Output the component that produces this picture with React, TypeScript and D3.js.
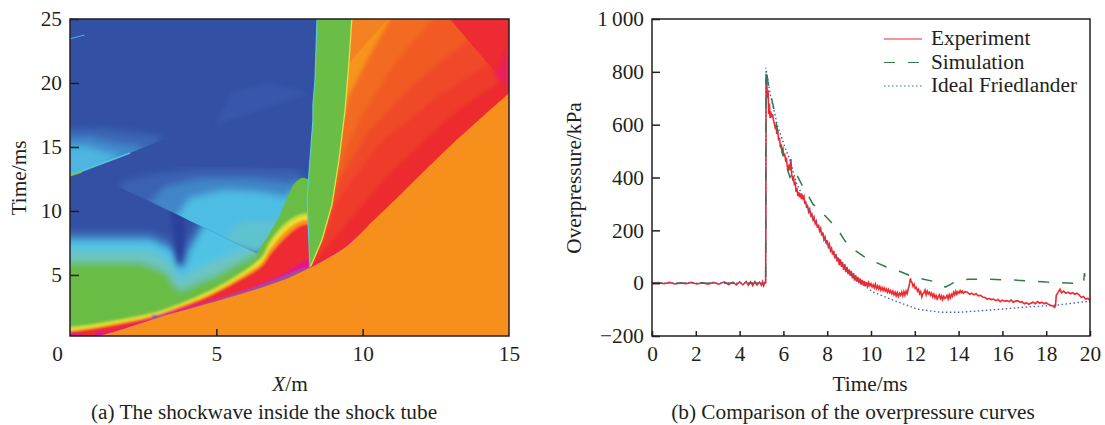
import * as d3 from "d3";
import { useEffect, useRef } from "react";

type Pt = [number, number];

// ---- left panel: x-t field, regions as [x (m), t (ms)] ----
const xTicksA = [0, 5, 10, 15];
const tTicksA = [5, 10, 15, 20, 25];

const shockFront: Pt[] = [[0.9, 0.23], [1.37, 0.47], [3.3, 1.88], [5.0, 2.95], [7.17, 4.5], [8.17, 5.55], [9.4, 7.19], [10.2, 8.9], [11.1, 10.86], [13, 15.1], [15, 19.2]];
const fanBands: { color: string; edge: Pt[] }[] = [
  { color: "#ef3a2b", edge: [[8.4, 6.2], [9.4, 8.9], [10.9, 12.9], [13.1, 17.6], [15, 20.6]] },
  { color: "#f0482a", edge: [[8.54, 7.34], [9.16, 10.86], [10.59, 15.31], [12.54, 18.91], [14.35, 21.56], [14.7, 22.6]] },
  { color: "#f15a24", edge: [[8.61, 8.13], [9.26, 12.66], [10.15, 16.09], [11.62, 19.69], [13.67, 23.5], [14.35, 25]] },
  { color: "#f36b21", edge: [[8.88, 10.86], [9.4, 14.77], [10.01, 17.66], [11.17, 21.8], [12.4, 25]] },
  { color: "#f7941e", edge: [[9.5, 18.9], [10.15, 21.8], [10.93, 25]] },
];
const wedgeOrange: Pt[] = [[9.4, 25], [9.53, 21.56], [10.86, 25], [10.86, 26], [9.4, 26]];
const cornerRed: Pt[] = [[12.98, 25], [15, 19.6], [16, 19.6], [16, 26], [12.98, 26]];
const cornerPink: Pt[] = [[15, 22.6], [15, 19.6], [14.45, 20.6]];
const greenLeft: Pt[] = [[8.44, 26], [8.44, 25], [8.37, 20.23], [8.3, 18.28], [8.3, 17.1], [8.16, 12.8], [8.1, 10.86], [8.13, 9.3], [8.2, 5.55]];
const greenRight: Pt[] = [[8.2, 5.55], [8.61, 7.73], [8.95, 10.47], [9.19, 13.98], [9.4, 17.89], [9.53, 21.56], [9.63, 25], [9.63, 26]];

const diagLine: Pt[] = [[0, 13.6], [2.63, 10.86], [6.42, 6.64]];
const wedgeLine: Pt[] = [[0, 12.81], [0.51, 13.2], [2.05, 14.53], [3.76, 16.1]];
const upperClose: Pt[] = [[8.1, 9], [6.42, 6.64], [2.63, 9]];
const upperGlow: { color: string; edge: Pt[] }[] = [
  { color: "#3a62b2", edge: [[1.4, 11], [1.9, 12.4], [2.9, 12.9], [4.44, 13.3], [6.49, 13.3], [7.69, 13.3], [8.03, 12.66]] },
  { color: "#3f86c9", edge: [[2.63, 10.4], [3.25, 11.9], [4.44, 12.5], [6.15, 12.5], [7.52, 12.2], [7.86, 12.42]] },
  { color: "#4ebde3", edge: [[3.59, 9.4], [4.1, 11.02], [5.3, 11.64], [6.49, 11.48], [7.35, 11.1], [7.79, 11.8]] },
  { color: "#5fc3cf", edge: [[5.1, 7.6], [5.9, 9.2], [6.9, 9.2]] },
];
const wedgeGlow: { color: string; poly: Pt[] }[] = [
  { color: "#3a66b5", poly: [[-0.5, 16.33], [1.02, 16.48], [2.05, 16.17], [3.25, 15.8], [2.05, 13.5], [0.51, 12.2], [-0.5, 12.2]] },
  { color: "#3f88cc", poly: [[-0.5, 15.7], [0.68, 15.8], [1.54, 15.3], [2.5, 15], [2.05, 13.5], [0.51, 12.2], [-0.5, 12.2]] },
  { color: "#4eb5e0", poly: [[-0.5, 15], [0.51, 15.1], [1.2, 14.6], [1.7, 14.4], [0.51, 12.2], [-0.5, 12.2]] },
];
const wedgeStreak: Pt[] = [[0, 12.81], [0.51, 13.2], [2.05, 14.53]];
const wedgeTip: Pt[] = [[0, 12.75], [0.4, 13.05]];
const topStreak: Pt[] = [[0, 23.45], [0.5, 23.75]];
const faintWedge: Pt[] = [[8.13, 19.2], [6.83, 20], [5.5, 19.2], [4.95, 16.7]];

const lowerLevels: { color: string; edge: Pt[] }[] = [
  { color: "#3e6fbc", edge: [[0, 8.36], [2.73, 8.36], [3.42, 7.73], [3.69, 6.02], [3.83, 6.02], [3.96, 7.34], [4.27, 8.6], [4.6, 10], [7.6, 10]] },
  { color: "#4fc3e6", edge: [[0, 7.73], [2.73, 7.73], [3.48, 6.95], [3.69, 5.55], [3.9, 5.55], [4.1, 6.95], [4.44, 8.3], [4.9, 10], [7.6, 10]] },
  { color: "#6cc5c4", edge: [[0, 6.95], [2.73, 6.95], [3.42, 6.02], [3.76, 4.6], [4.1, 5.2], [4.78, 6], [5.81, 6.95], [6.6, 7.4], [7.6, 7.6]] },
  { color: "#69bd45", edge: [[0, 6.02], [2.39, 6.02], [3.25, 5.23], [3.76, 3.7], [4.27, 4.3], [4.95, 4.9], [5.81, 6], [6.6, 6.9], [7.6, 7.2]] },
];
const darkNotch: Pt[] = [[3.4, 10.4], [3.95, 9.8], [3.9, 7.5], [3.78, 5.9], [3.72, 5.9], [3.58, 7.5]];
const greenHump: Pt[] = [[6.39, 6.72], [6.83, 8.3], [7.17, 9.69], [7.45, 11.2], [7.69, 12.2], [7.95, 12.6], [8.2, 12.4]];

const frontBands: { color: string; edge: Pt[] }[] = [
  { color: "#c4d93e", edge: [[0, 0.95], [2.73, 2.02], [3.65, 2.7], [4.78, 3.8], [5.81, 5.15], [6.56, 6.5], [6.83, 7.65], [7.35, 9.05], [7.86, 9.75], [8.2, 9.85]] },
  { color: "#efe02e", edge: [[0, 0.78], [2.73, 1.88], [3.65, 2.56], [4.78, 3.64], [5.81, 4.98], [6.56, 6.3], [6.83, 7.35], [7.35, 8.75], [7.86, 9.5], [8.2, 9.6]] },
  { color: "#f7941e", edge: [[0, 0.65], [2.73, 1.76], [3.65, 2.46], [4.78, 3.5], [5.81, 4.8], [6.56, 6], [6.83, 7], [7.35, 8.4], [7.86, 9.2], [8.2, 9.35]] },
  { color: "#ee2a30", edge: [[0, 0.55], [2.73, 1.64], [3.25, 2.03], [3.65, 2.34], [4.78, 3.36], [5.81, 4.6], [6.56, 5.7], [6.83, 6.56], [7.35, 7.9], [7.86, 8.83], [8.2, 9]] },
  { color: "#e0188c", edge: [[1.37, 0.6], [3.31, 2.03], [5.02, 3.13], [6.83, 4.6], [8.2, 6.33]] },
  { color: "#9b4fa0", edge: [[3.31, 1.9], [5.02, 3.05], [6.83, 4.45], [7.86, 5.4], [8.2, 5.6]] },
];
const cornerMagenta: Pt[] = [[-0.2, 0.5], [0.4, 0.4], [0.5, 0], [-0.2, 0]];

// ---- right panel: overpressure curves ----
const timeTicks = [0, 2, 4, 6, 8, 10, 12, 14, 16, 18, 20];
const pressureTicks = [-200, 0, 200, 400, 600, 800, 1000];

const expTime = [
  0, 0.3, 0.55, 0.8, 1.05, 1.3, 1.55, 1.8, 2.05, 2.3, 2.55, 2.8, 3.05, 3.3, 3.5, 3.7, 3.85, 4, 4.15, 4.3, 4.4, 4.5, 4.6, 4.7, 4.8, 4.9, 5, 5.05, 5.1, 5.15, 5.19, 5.2, 5.21,
  5.24, 5.27, 5.3, 5.33, 5.36, 5.39, 5.42, 5.46, 5.5, 5.54, 5.58, 5.62, 5.66, 5.7, 5.74, 5.78, 5.82, 5.86, 5.9, 5.94, 5.98,
  6.02, 6.06, 6.1, 6.14, 6.18, 6.22, 6.26, 6.3, 6.34, 6.38, 6.42, 6.46, 6.5, 6.54, 6.58, 6.62, 6.66, 6.7, 6.74, 6.78, 6.82, 6.86, 6.9, 6.94, 6.98,
  7.02, 7.06, 7.1, 7.15, 7.2, 7.25, 7.3, 7.35, 7.4, 7.45, 7.5, 7.55, 7.6, 7.65, 7.7, 7.75, 7.8, 7.85, 7.9, 7.95, 8, 8.05, 8.1, 8.15, 8.2, 8.25, 8.3, 8.35, 8.4, 8.45, 8.5, 8.55, 8.6, 8.65, 8.7, 8.75, 8.8, 8.85, 8.9, 8.95, 9, 9.05, 9.1, 9.15, 9.2, 9.25, 9.3, 9.35, 9.4, 9.45, 9.5, 9.55, 9.6, 9.65, 9.7, 9.75, 9.8, 9.85, 9.9, 9.95, 10, 10.05, 10.1, 10.15, 10.2, 10.25, 10.3, 10.35, 10.4, 10.45, 10.5, 10.55, 10.6, 10.65, 10.7, 10.75, 10.8, 10.85, 10.9, 10.95, 11, 11.05, 11.1, 11.15, 11.2, 11.25, 11.3, 11.35, 11.4, 11.45, 11.5, 11.55, 11.6, 11.65, 11.7, 11.75, 11.8, 11.83, 11.87, 11.92, 11.97, 12.02, 12.07, 12.12, 12.17, 12.22, 12.27, 12.32, 12.37, 12.42, 12.47, 12.52, 12.57, 12.62, 12.67, 12.72, 12.77, 12.82, 12.87, 12.92, 12.97, 13.02, 13.07, 13.12, 13.17, 13.22, 13.27, 13.32, 13.37, 13.42, 13.47, 13.52, 13.57, 13.62, 13.67, 13.72, 13.77, 13.82, 13.87, 13.92, 13.97, 14.02, 14.07, 14.12, 14.17, 14.22, 14.3, 14.4, 14.5, 14.6, 14.7, 14.8, 14.9, 15, 15.1, 15.2, 15.3, 15.4, 15.5, 15.6, 15.7, 15.8, 15.9, 16, 16.1, 16.2, 16.3, 16.4, 16.5, 16.6, 16.7, 16.8, 16.9, 17, 17.1, 17.2, 17.3, 17.4, 17.5, 17.6, 17.7, 17.8, 17.9, 18, 18.1, 18.2, 18.3, 18.38, 18.42, 18.46, 18.55, 18.63, 18.7, 18.8, 18.9, 19, 19.1, 19.2, 19.3, 19.4, 19.5, 19.6, 19.7, 19.8, 19.9, 20,
];
const expPressure = [
  0, 2, -2, 3, -3, 1, -2, 3, -3, 2, -4, 3, -4, 5, -5, 4, -7, 5, -6, 6, -8, 5, -9, 6, -7, 4, -8, 5, -9, 3, 2, 300, 776,
  760, 700, 730, 640, 680, 625, 650, 628, 640, 620, 605, 590, 600, 565, 575, 540, 550, 515, 525, 500, 508,
  480, 490, 465, 470, 440, 425, 450, 428, 470, 410, 395, 405, 370, 385, 345, 360, 330, 345, 325, 340, 318, 335, 320, 328, 300,
  310, 285, 295, 270, 280, 255, 262, 240, 250, 225, 235, 210, 222, 198, 208, 180, 192, 165, 175, 150, 162, 138, 148, 122, 132, 108, 122, 94, 110, 82, 97, 68, 90, 62, 80, 50, 72, 42, 62, 34, 52, 28, 46, 18, 38, 10, 30, 6, 24, 0, 18, -5, 12, -8, 8, -12, 4, -14, 2, -10, -2, -14, -6, -18, -4, -20, -10, -22, -12, -26, -16, -28, -18, -30, -22, -34, -24, -36, -28, -40, -30, -44, -34, -48, -36, -50, -38, -46, -34, -48, -32, -46, -30, -40, -22, -6, 18, 8, 2, -12, -4, -20, -16, -30, -24, -40, -32, -52, -40, -36, -26, -44, -30, -40, -34, -46, -38, -52, -42, -56, -46, -60, -52, -44, -58, -48, -62, -50, -58, -54, -46, -60, -44, -56, -42, -50, -34, -44, -30, -42, -32, -38, -28, -36, -30, -38, -32, -34, -42, -38, -44, -40, -48, -46, -52, -54, -60, -58, -62, -60, -66, -62, -70, -64, -68, -66, -70, -64, -72, -68, -66, -72, -70, -78, -74, -80, -76, -72, -78, -70, -76, -72, -78, -74, -80, -84, -86, -92, -88, -46, -34, -23, -36, -30, -38, -34, -40, -36, -42, -38, -44, -54, -50, -60, -58, -64, -68,
];
const simTime = [0, 5.19, 5.21, 5.3, 5.55, 5.75, 6, 6.3, 6.5, 6.85, 7.07, 7.35, 7.67, 8.13, 8.45, 8.8, 9.13, 9.65, 10.1, 10.7, 11.3, 11.85, 12.4, 13, 13.4, 13.9, 14.45, 15.2, 16.5, 18, 19.2, 19.7, 19.75, 19.8, 20];
const simPressure = [0, 0, 815, 757, 666, 568, 477, 401, 428, 371, 340, 299, 276, 235, 208, 161, 132, 102, 83, 61, 45, 26, 15, 4, -15, 8, 15, 15, 12, 4, 0, 0, 38, 0, 8];
const idealTime = [0, 5.19, 5.2, 5.39, 5.75, 6.07, 6.3, 6.6, 6.9, 7.2, 7.67, 8.13, 8.58, 9.36, 10.1, 11, 12.1, 13.15, 14.06, 15.4, 17, 18.5, 20];
const idealPressure = [0, 0, 815, 719, 590, 515, 466, 378, 326, 276, 200, 125, 87, 11, -34, -64, -98, -110, -110, -102, -91, -83, -68];

const legendNames = ["Experiment", "Simulation", "Ideal Friedlander"];
const legendColors = ["#ee2a30", "#2f7d45", "#3f66b5"];
const legendDash = ["", "11 13", "1.5 2.5"];

const serif = "'Liberation Serif', 'Times New Roman', serif";
const ink = "#231f20";
const fontSize = 21.3;

export default function App() {
  const svgRef = useRef<SVGSVGElement>(null);

  useEffect(() => {
    const svg = d3.select(svgRef.current);
    svg.selectAll("*").remove();
    svg.style("font-family", serif);

    // left panel scales
    const x = d3.scaleLinear().domain([0, 15]).range([70, 509]);
    const t = d3.scaleLinear().domain([0.23, 25]).range([336, 19]);
    const line = d3.line<Pt>().x((d) => x(d[0])).y((d) => t(d[1]));
    const smooth = d3.line<Pt>().x((d) => x(d[0])).y((d) => t(d[1])).curve(d3.curveCatmullRom);
    const closed = (p: Pt[]) => line(p) + "Z";
    const tail = (p: Pt[]) => p.map((d) => `L${x(d[0])},${t(d[1])}`).join("") + "Z";

    const defs = svg.append("defs");
    defs.append("clipPath").attr("id", "fieldClip").append("rect").attr("x", 70).attr("y", 19).attr("width", 439).attr("height", 317);
    defs.append("clipPath").attr("id", "belowDiag").append("path").attr("d", closed([...diagLine, [9, 6.64], [9, -1], [0, -1]]));
    defs.append("clipPath").attr("id", "aboveDiag").append("path").attr("d", closed([...diagLine, [9, 6.64], [9, 13.3], [0, 13.6]]));
    defs.append("clipPath").attr("id", "aboveWedge").append("path").attr("d", closed([...wedgeLine, [3.76, 18], [0, 18]]));
    const blur = (id: string, s: number) =>
      defs.append("filter").attr("id", id).attr("x", "-10%").attr("y", "-10%").attr("width", "120%").attr("height", "120%")
        .append("feGaussianBlur").attr("stdDeviation", s);
    blur("soft", 0.7);
    blur("band", 1.1);
    blur("mid", 2.2);
    blur("wide", 3.6);

    const field = svg.append("g").attr("clip-path", "url(#fieldClip)");
    field.append("rect").attr("x", 70).attr("y", 19).attr("width", 439).attr("height", 317).attr("fill", "#3350a5");

    const fan = field.append("g").attr("filter", "url(#mid)");
    fan.append("path").attr("d", closed([[8, 27], [16, 27], [16, 0], [8, 0]])).attr("fill", "#ed2a2e");
    fanBands.forEach((b) => {
      const last = b.edge[b.edge.length - 1];
      fan.append("path").attr("d", closed([...b.edge, [last[0] + 0.6, 27], [8, 27], [8, 5]])).attr("fill", b.color);
    });
    const fanTop = field.append("g").attr("filter", "url(#soft)");
    fanTop.append("path").attr("d", closed(cornerRed)).attr("fill", "#ee2a30");
    fanTop.append("path").attr("d", closed(wedgeOrange)).attr("fill", "#f58220");
    field.append("path").attr("d", closed(cornerPink)).attr("fill", "#e91e63").attr("opacity", 0.75).attr("filter", "url(#mid)");
    field.append("path").attr("d", closed([...greenLeft, [8.2, 0], [-0.5, 0], [-0.5, 26]])).attr("fill", "#3350a5");

    // upper lobes, cut sharp along the two reflected waves
    field.append("path").attr("d", closed(faintWedge)).attr("fill", "#3957ac").attr("filter", "url(#mid)");
    const wedgeClip = field.append("g").attr("clip-path", "url(#aboveWedge)").append("g").attr("filter", "url(#wide)");
    wedgeGlow.forEach((w) => wedgeClip.append("path").attr("d", closed(w.poly)).attr("fill", w.color));
    const upperClip = field.append("g").attr("clip-path", "url(#aboveDiag)").append("g").attr("filter", "url(#wide)");
    upperGlow.forEach((u) => upperClip.append("path").attr("d", closed([...u.edge, ...upperClose])).attr("fill", u.color));
    const lowerClip = field.append("g").attr("clip-path", "url(#belowDiag)").append("g").attr("filter", "url(#wide)");
    lowerLevels.forEach((l) => {
      const last = l.edge[l.edge.length - 1];
      lowerClip.append("path").attr("d", closed([[-1, l.edge[0][1]], ...l.edge, [last[0], -1], [-1, -1]])).attr("fill", l.color);
    });
    field.append("path").attr("d", closed(darkNotch)).attr("fill", "#2b3f9b").attr("filter", "url(#mid)").attr("clip-path", "url(#belowDiag)");

    const hump = field.append("g").attr("filter", "url(#soft)");
    hump.append("path").attr("d", smooth(greenHump) + tail([[8.2, 0], [6.39, 0]])).attr("fill", "#69bd45");

    const band = field.append("g").attr("filter", "url(#band)");
    frontBands.forEach((b) => {
      const e = b.edge;
      band.append("path").attr("d", smooth([[e[0][0] - 0.5, e[0][1]], ...e]) + tail([[e[e.length - 1][0], -1], [e[0][0] - 0.5, -1]])).attr("fill", b.color);
    });
    band.append("path").attr("d", closed(cornerMagenta)).attr("fill", "#e0188c");

    const front = field.append("g").attr("filter", "url(#soft)");
    front.append("path").attr("d", closed([...greenLeft, ...greenRight])).attr("fill", "#6abd45");
    front.append("path").attr("d", line(greenLeft)!).attr("fill", "none").attr("stroke", "#5ccbe0").attr("stroke-width", 1.1);
    front.append("path").attr("d", line(greenRight)!).attr("fill", "none").attr("stroke", "#dde34a").attr("stroke-width", 1.3);
    front.append("path").attr("d", line(wedgeStreak)!).attr("fill", "none").attr("stroke", "#57c6e0").attr("stroke-width", 1.4);
    front.append("path").attr("d", line(wedgeTip)!).attr("fill", "none").attr("stroke", "#7fc241").attr("stroke-width", 1.6);
    front.append("path").attr("d", line(topStreak)!).attr("fill", "none").attr("stroke", "#4eb5e0").attr("stroke-width", 1);
    front.append("path").attr("d", smooth(shockFront) + tail([[16, 19.2], [16, -1], [0.9, -1]])).attr("fill", "#f78f1e");
    front.append("path").attr("d", smooth(shockFront.slice(5, 8))!).attr("fill", "none").attr("stroke", "#e0188c").attr("stroke-width", 0.9);

    const styleAxis = (g: any) => {
      g.selectAll("text").attr("font-family", serif).attr("font-size", fontSize).attr("fill", ink);
      g.selectAll("line").attr("stroke", ink).attr("stroke-width", 1.5);
      g.selectAll(".domain").remove();
    };
    const frame = (l: number, r: number, top: number, bottom: number) =>
      svg.append("rect").attr("x", l).attr("y", top).attr("width", r - l).attr("height", bottom - top)
        .attr("fill", "none").attr("stroke", ink).attr("stroke-width", 1.5);

    frame(70, 509, 19, 336);
    const axA = svg.append("g").attr("transform", "translate(0,336)")
      .call(d3.axisBottom(x).tickValues(xTicksA).tickSize(-7).tickPadding(10).tickFormat(d3.format("d")) as any);
    styleAxis(axA);
    axA.selectAll<SVGTextElement, number>("text").attr("dx", (d) => (d === 0 ? -13 : 0));
    axA.selectAll<SVGLineElement, number>("line").attr("opacity", (d) => (d === 0 || d === 15 ? 0 : 1));
    const ayA = svg.append("g").attr("transform", "translate(70,0)")
      .call(d3.axisLeft(t).tickValues(tTicksA).tickSize(-9).tickPadding(8).tickFormat(d3.format("d")) as any);
    styleAxis(ayA);

    // right panel
    const px = d3.scaleLinear().domain([0, 20]).range([652, 1090]);
    const py = d3.scaleLinear().domain([-200, 1000]).range([336, 19]);
    const curve = (ts: number[], ps: number[]) =>
      d3.line<number>().x((d) => px(d)).y((_, i) => py(ps[i]))(ts)!;

    svg.append("path").attr("d", curve(expTime, expPressure)).attr("fill", "none").attr("stroke", legendColors[0]).attr("stroke-width", 1.6);
    svg.append("path").attr("d", curve(simTime, simPressure)).attr("fill", "none").attr("stroke", legendColors[1]).attr("stroke-width", 1.5).attr("stroke-dasharray", legendDash[1]);
    svg.append("path").attr("d", curve(idealTime, idealPressure)).attr("fill", "none").attr("stroke", legendColors[2]).attr("stroke-width", 1.4).attr("stroke-dasharray", legendDash[2]);

    frame(652, 1090, 19, 336);
    const axB = svg.append("g").attr("transform", "translate(0,336)")
      .call(d3.axisBottom(px).tickValues(timeTicks).tickSize(-5).tickPadding(10).tickFormat(d3.format("d")) as any);
    styleAxis(axB);
    const ayB = svg.append("g").attr("transform", "translate(652,0)")
      .call(d3.axisLeft(py).tickValues(pressureTicks).tickSize(-8).tickPadding(8)
        .tickFormat((d) => (d === 1000 ? "1\u2009000" : d3.format("d")(d as number).replace("-", "\u2212"))) as any);
    styleAxis(ayB);

    legendNames.forEach((name, i) => {
      const y = 39 + i * 23.5;
      svg.append("line").attr("x1", 884).attr("x2", 922).attr("y1", y).attr("y2", y)
        .attr("stroke", legendColors[i]).attr("stroke-width", 1.2).attr("stroke-dasharray", legendDash[i]);
      svg.append("text").attr("x", 931).attr("y", y + 6).attr("font-size", fontSize).attr("fill", ink).text(name);
    });

    // titles and captions
    const label = (tx: number, ty: number, s: string, rotate = false) =>
      svg.append("text").attr("text-anchor", "middle").attr("font-size", fontSize).attr("fill", ink)
        .attr("transform", `translate(${tx},${ty})${rotate ? " rotate(-90)" : ""}`).text(s);
    label(26, 178, "Time/ms", true);
    label(581, 178, "Overpressure/kPa", true);
    const xt = svg.append("text").attr("text-anchor", "middle").attr("font-size", fontSize).attr("fill", ink)
      .attr("transform", "translate(290,391)");
    xt.append("tspan").attr("font-style", "italic").text("X");
    xt.append("tspan").text("/m");
    label(870, 391, "Time/ms");
    label(264, 419, "(a) The shockwave inside the shock tube");
    label(853, 419, "(b) Comparison of the overpressure curves");
  }, []);

  return <svg ref={svgRef} width={1105} height={425} style={{ position: "absolute", left: 0, top: 0, background: "#fff" }} />;
}
